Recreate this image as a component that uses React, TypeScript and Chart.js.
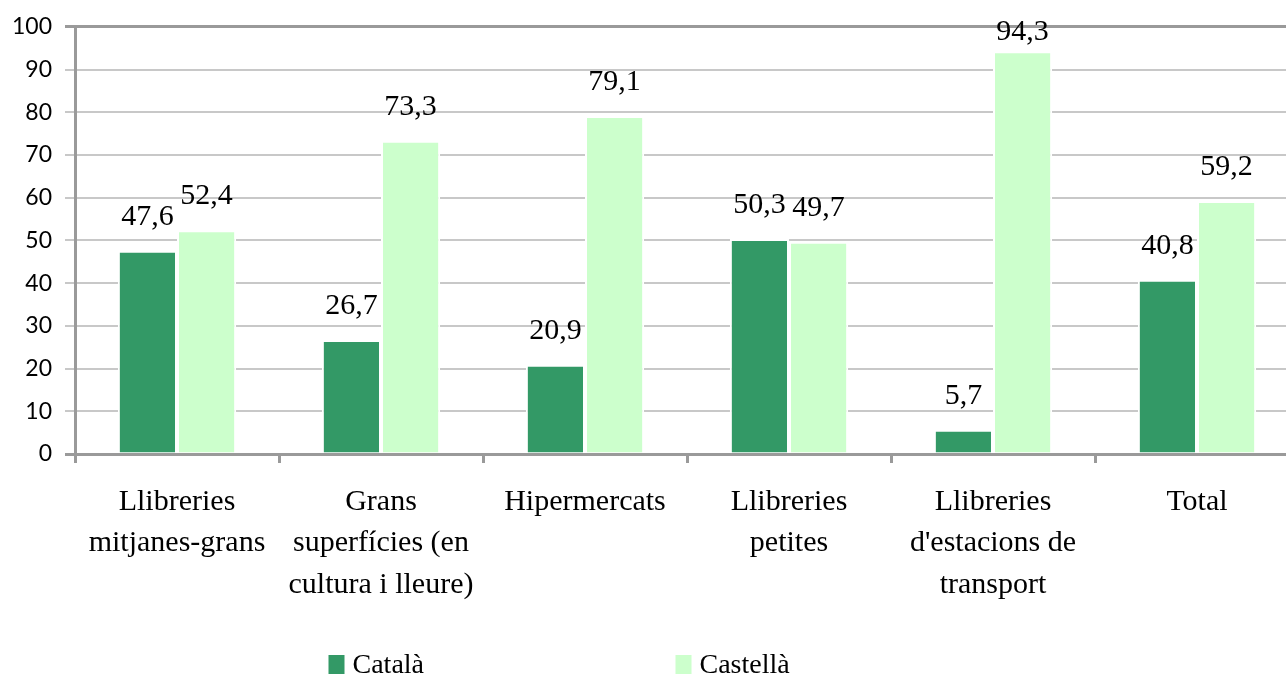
import React, { useEffect, useRef } from "react";
import { Chart, registerables } from "chart.js";

Chart.register(...registerables);

const categories: string[][] = [
  ["Llibreries", "mitjanes-grans"],
  ["Grans", "superfícies (en", "cultura i lleure)"],
  ["Hipermercats"],
  ["Llibreries", "petites"],
  ["Llibreries", "d'estacions de", "transport"],
  ["Total"],
];
const catalaValues = [47.6, 26.7, 20.9, 50.3, 5.7, 40.8];
const castellaValues = [52.4, 73.3, 79.1, 49.7, 94.3, 59.2];
const seriesNames = ["Català", "Castellà"];
const seriesColors = ["#339966", "#CCFFCC"];
const yMin = 0;
const yMax = 100;
const yStep = 10;

const SERIF = "'Liberation Serif', 'Times New Roman', serif";
const SANS = "Lato, 'Open Sans', sans-serif";

const fmt = (v: number) => v.toFixed(1).replace(".", ",");

const dataLabelPlugin = {
  id: "dataLabels",
  afterDatasetsDraw(chart: any) {
    const ctx = chart.ctx;
    ctx.save();
    ctx.font = `30px ${SERIF}`;
    ctx.fillStyle = "#000";
    ctx.textAlign = "center";
    ctx.textBaseline = "alphabetic";
    const minBaseline = chart.chartArea.top + 13;
    chart.data.datasets.forEach((ds: any, di: number) => {
      const meta = chart.getDatasetMeta(di);
      meta.data.forEach((el: any, i: number) => {
        const y = Math.max(el.y - 26, minBaseline);
        ctx.fillText(fmt(ds.data[i]), el.x, y);
      });
    });
    ctx.restore();
  },
};

const legendPlugin = {
  id: "customLegend",
  afterDraw(chart: any) {
    const ctx = chart.ctx;
    const slot = 347;
    const center = (chart.chartArea.left + 1286) / 2 - 5;
    const startX = center - slot * (chart.data.datasets.length / 2);
    const yBase = 673;
    ctx.save();
    ctx.font = `28px ${SERIF}`;
    ctx.textBaseline = "alphabetic";
    ctx.textAlign = "left";
    chart.data.datasets.forEach((ds: any, i: number) => {
      const x = startX + i * slot;
      ctx.fillStyle = ds.backgroundColor;
      ctx.fillRect(x, yBase - 18, 16, 19);
      ctx.fillStyle = "#000";
      ctx.fillText(ds.label, x + 24, yBase);
    });
    ctx.restore();
  },
};

export default function App() {
  const ref = useRef<HTMLCanvasElement | null>(null);
  useEffect(() => {
    if (!ref.current) return;
    const chart = new Chart(ref.current, {
      type: "bar",
      data: {
        labels: categories,
        datasets: [
          {
            label: seriesNames[0],
            data: catalaValues,
            backgroundColor: seriesColors[0],
            borderColor: "#ffffff",
            borderWidth: 2,
            categoryPercentage: 0.58,
            barPercentage: 1,
          },
          {
            label: seriesNames[1],
            data: castellaValues,
            backgroundColor: seriesColors[1],
            borderColor: "#ffffff",
            borderWidth: 2,
            categoryPercentage: 0.58,
            barPercentage: 1,
          },
        ],
      },
      options: {
        animation: false,
        responsive: false,
        devicePixelRatio: 1,
        layout: { padding: { top: 25, right: 1, bottom: 56, left: 0 } },
        plugins: {
          legend: { display: false },
          tooltip: { enabled: false },
        },
        scales: {
          x: {
            offset: true,
            grid: {
              offset: true,
              drawOnChartArea: false,
              drawTicks: true,
              tickLength: 9,
              color: "#9a9a9a",
              lineWidth: 3,
            },
            border: { display: true, color: "#9a9a9a", width: 3 },
            ticks: {
              font: { family: SERIF, size: 30, lineHeight: 1.39 },
              color: "#000",
              padding: 18,
              maxRotation: 0,
              autoSkip: false,
            },
            afterFit: (s: any) => {
              s.height = 170;
            },
          },
          y: {
            min: yMin,
            max: yMax,
            ticks: {
              stepSize: yStep,
              font: { family: SANS, size: 23 },
              color: "#000",
              padding: 13,
            },
            grid: {
              color: (c: any) =>
                c.tick && (c.tick.value === yMax || c.tick.value === yMin) ? "#9a9a9a" : "#c8c8c8",
              lineWidth: (c: any) =>
                c.tick && (c.tick.value === yMax || c.tick.value === yMin) ? 3 : 2,
              tickLength: 10,
            },
            border: { display: true, color: "#9a9a9a", width: 3 },
            afterFit: (s: any) => {
              s.width = 75;
            },
          },
        },
      },
      plugins: [dataLabelPlugin, legendPlugin],
    });
    return () => chart.destroy();
  }, []);

  return (
    <div
      style={{
        position: "absolute",
        left: 0,
        top: 0,
        width: 1286,
        height: 680,
        overflow: "hidden",
        background: "#fff",
      }}
    >
      <canvas ref={ref} width={1300} height={680} style={{ display: "block" }} />
    </div>
  );
}
